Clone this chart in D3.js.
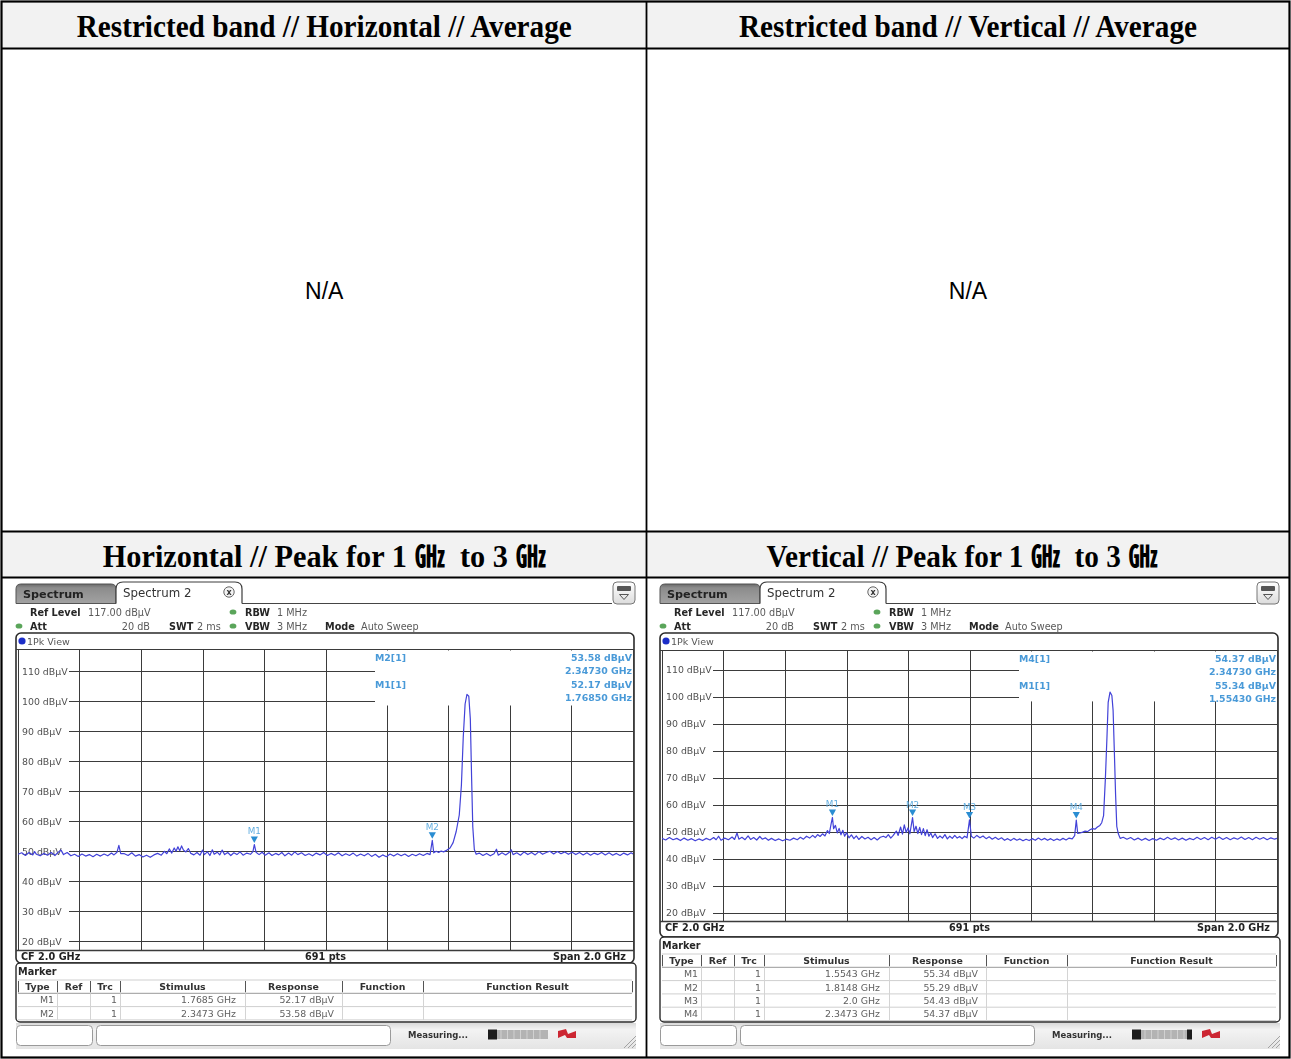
<!DOCTYPE html>
<html>
<head>
<meta charset="utf-8">
<script src="https://cdn.jsdelivr.net/npm/d3@7"></script>
<style>
  body { margin: 0; background: #fff; }
  svg { display: block; }
</style>
</head>
<body>
<div id="chart"></div>
<script>
// ---- report cells ----
const cellTitles = [
  "Restricted band // Horizontal // Average",
  "Restricted band // Vertical // Average",
  "Horizontal // Peak for 1 \u3393  to 3 \u3393",
  "Vertical // Peak for 1 \u3393  to 3 \u3393"
];
const emptyCellText = "N/A";

// ---- analyzer settings ----
const refLevel = 117;           // dBµV, top of screen
const rangeDb = 100;            // 10 dB / div
const freqStart = 1.0, freqStop = 3.0;   // GHz
const yTicks = [110, 100, 90, 80, 70, 60, 50, 40, 30, 20];
const settingsRow1 = [["Ref Level", "117.00 dBµV"], ["RBW", "1 MHz"]];
const settingsRow2 = [["Att", "20 dB"], ["SWT", "2 ms"], ["VBW", "3 MHz"], ["Mode", "Auto Sweep"]];
const footer = ["CF 2.0 GHz", "691 pts", "Span 2.0 GHz"];
const tableHeader = ["Type", "Ref", "Trc", "Stimulus", "Response", "Function", "Function Result"];

// ---- horizontal polarisation, 1Pk trace [GHz, dBµV] ----
const traceH = [
  [1.000,48.9],[1.012,49.4],[1.024,48.5],[1.036,49.5],[1.048,48.7],[1.054,49.8],[1.060,48.9],[1.072,48.4],
  [1.084,49.2],[1.096,48.6],[1.108,49.5],[1.120,48.5],[1.132,49.7],[1.140,50.3],[1.148,48.8],[1.160,49.5],
  [1.172,48.4],[1.184,48.9],[1.196,48.2],[1.208,49.0],[1.220,48.3],[1.232,48.8],[1.244,48.1],[1.256,48.9],
  [1.268,48.3],[1.280,49.0],[1.292,48.4],[1.304,49.3],[1.312,48.7],[1.322,49.6],[1.328,51.9],[1.334,49.1],
  [1.346,49.1],[1.358,48.5],[1.370,49.4],[1.382,48.3],[1.394,48.8],[1.406,48.0],[1.418,48.6],[1.430,47.9],
  [1.442,48.7],[1.454,49.2],[1.466,48.6],[1.476,49.9],[1.484,49.1],[1.492,50.7],[1.500,49.3],[1.508,51.0],
  [1.514,49.9],[1.520,51.4],[1.526,50.1],[1.532,51.7],[1.538,50.3],[1.546,49.7],[1.554,50.8],[1.562,49.2],
  [1.572,48.7],[1.582,49.5],[1.592,48.6],[1.600,50.3],[1.606,48.8],[1.616,49.7],[1.624,48.5],[1.632,50.4],
  [1.638,48.9],[1.648,49.6],[1.656,48.7],[1.664,50.3],[1.672,48.8],[1.682,49.5],[1.692,48.5],[1.702,49.4],
  [1.712,48.8],[1.722,49.7],[1.732,48.6],[1.744,49.3],[1.756,48.9],[1.764,49.8],[1.7685,52.17],[1.774,49.6],
  [1.784,48.8],[1.794,49.6],[1.804,48.6],[1.816,49.4],[1.826,48.5],[1.838,49.2],[1.848,48.7],[1.858,49.5],
  [1.868,48.4],[1.880,49.3],[1.890,48.6],[1.900,49.7],[1.910,48.8],[1.922,49.4],[1.934,48.5],[1.946,49.1],
  [1.958,48.4],[1.970,49.3],[1.982,48.7],[1.994,49.5],[2.006,48.5],[2.018,49.2],[2.030,48.6],[2.042,49.4],
  [2.054,48.4],[2.066,49.1],[2.078,48.5],[2.090,49.3],[2.102,48.3],[2.114,49.0],[2.126,48.4],[2.138,49.2],
  [2.150,48.2],[2.162,48.9],[2.174,47.9],[2.186,48.7],[2.198,48.1],[2.210,49.0],[2.222,48.3],[2.234,49.1],
  [2.246,48.4],[2.258,49.0],[2.270,48.2],[2.282,48.9],[2.294,48.4],[2.306,49.1],[2.318,48.5],[2.330,49.2],
  [2.340,48.8],[2.3473,53.58],[2.352,49.4],[2.360,49.9],[2.368,49.5],[2.376,50.0],[2.384,49.7],[2.395,50.3],
  [2.405,51.0],[2.415,52.8],[2.425,56.5],[2.435,62.0],[2.442,72.0],[2.448,88.0],[2.454,99.0],[2.460,102.2],
  [2.466,101.6],[2.471,94.0],[2.475,75.0],[2.479,58.0],[2.484,50.5],[2.490,48.9],[2.500,49.3],[2.512,48.5],
  [2.524,49.2],[2.536,48.4],[2.548,49.1],[2.556,50.6],[2.562,48.6],[2.574,49.4],[2.586,48.7],[2.598,49.6],
  [2.604,50.4],[2.610,48.8],[2.622,49.4],[2.634,48.6],[2.646,49.7],[2.658,48.8],[2.670,49.5],[2.682,48.7],
  [2.694,49.8],[2.706,48.9],[2.718,49.5],[2.730,49.9],[2.742,49.0],[2.754,49.8],[2.766,49.1],[2.778,49.7],
  [2.790,48.9],[2.802,49.6],[2.814,48.8],[2.826,49.5],[2.838,48.7],[2.850,49.4],[2.862,48.6],[2.874,49.3],
  [2.886,48.8],[2.898,49.5],[2.910,48.7],[2.922,49.4],[2.934,48.6],[2.946,49.2],[2.958,48.5],[2.970,49.3],
  [2.982,48.7],[2.994,49.4],[3.000,49.0]
];

// ---- vertical polarisation, 1Pk trace [GHz, dBµV] ----
const traceV = [
  [1.000,47.6],[1.012,47.0],[1.024,47.9],[1.036,47.1],[1.048,47.6],[1.060,46.8],[1.072,47.7],[1.084,46.9],
  [1.096,47.5],[1.108,46.7],[1.120,47.4],[1.132,46.8],[1.144,47.6],[1.156,47.0],[1.168,47.9],[1.176,47.1],
  [1.184,48.4],[1.192,46.9],[1.204,47.7],[1.216,47.1],[1.228,48.1],[1.236,47.2],[1.244,49.6],[1.250,47.3],
  [1.260,48.0],[1.270,47.1],[1.280,48.5],[1.288,47.2],[1.298,47.9],[1.308,47.0],[1.318,48.3],[1.326,47.3],
  [1.336,47.8],[1.346,46.9],[1.356,47.6],[1.368,46.8],[1.380,47.4],[1.392,46.7],[1.404,47.3],[1.416,46.9],
  [1.428,47.7],[1.440,47.1],[1.450,48.0],[1.460,47.3],[1.470,48.4],[1.480,47.7],[1.490,48.7],[1.498,47.9],
  [1.506,49.0],[1.514,48.3],[1.522,49.3],[1.530,48.5],[1.538,50.5],[1.544,49.4],[1.550,53.0],[1.5543,55.34],
  [1.558,51.2],[1.564,52.4],[1.570,49.6],[1.576,51.3],[1.582,48.9],[1.588,50.6],[1.594,48.4],[1.600,49.7],
  [1.608,47.8],[1.616,48.9],[1.624,47.5],[1.632,48.5],[1.640,47.2],[1.650,48.3],[1.660,47.4],[1.670,48.0],
  [1.680,47.1],[1.690,47.9],[1.700,47.0],[1.710,48.0],[1.720,48.4],[1.728,47.9],[1.736,49.0],[1.744,47.7],
  [1.752,48.7],[1.762,50.3],[1.768,48.7],[1.776,51.8],[1.782,49.2],[1.788,52.6],[1.794,49.8],[1.800,51.5],
  [1.806,49.3],[1.8148,55.29],[1.820,50.1],[1.826,52.1],[1.832,49.4],[1.838,51.7],[1.844,49.0],[1.850,51.2],
  [1.856,48.6],[1.862,50.8],[1.868,48.4],[1.874,49.6],[1.880,47.9],[1.888,49.3],[1.896,47.6],[1.904,48.5],
  [1.912,47.7],[1.920,49.0],[1.928,47.4],[1.936,48.4],[1.944,47.6],[1.952,48.7],[1.960,47.7],[1.968,48.3],
  [1.976,47.5],[1.984,48.4],[1.992,47.8],[2.000,54.43],[2.006,48.4],[2.014,47.7],[2.024,48.7],[2.034,47.8],
  [2.044,48.5],[2.054,47.5],[2.064,48.2],[2.074,47.3],[2.084,48.0],[2.094,47.2],[2.104,47.8],[2.114,46.9],
  [2.124,47.5],[2.134,46.8],[2.144,47.6],[2.154,46.9],[2.164,47.4],[2.174,46.7],[2.184,47.3],[2.194,46.8],
  [2.204,47.5],[2.214,46.9],[2.224,47.7],[2.234,47.0],[2.244,47.6],[2.254,46.9],[2.264,47.5],[2.274,46.8],
  [2.284,47.4],[2.294,46.9],[2.304,47.6],[2.314,47.0],[2.324,47.7],[2.334,47.4],[2.342,48.6],[2.3473,54.37],
  [2.352,49.4],[2.360,49.6],[2.368,49.9],[2.376,50.3],[2.384,50.1],[2.392,50.8],[2.400,51.2],[2.408,51.0],
  [2.416,51.8],[2.424,52.4],[2.430,53.4],[2.436,56.0],[2.442,70.0],[2.447,85.0],[2.451,98.0],[2.457,101.8],
  [2.463,100.5],[2.467,95.0],[2.471,80.0],[2.475,64.0],[2.479,52.0],[2.484,49.3],[2.490,47.6],[2.500,48.0],
  [2.512,47.3],[2.524,47.9],[2.536,47.0],[2.548,47.7],[2.560,46.9],[2.572,47.6],[2.584,46.8],[2.596,47.5],
  [2.608,46.9],[2.620,47.7],[2.632,47.1],[2.644,48.0],[2.656,47.2],[2.668,47.8],[2.680,47.0],[2.692,47.7],
  [2.704,46.9],[2.716,47.6],[2.728,47.1],[2.740,48.0],[2.752,47.2],[2.764,47.9],[2.776,47.1],[2.788,48.0],
  [2.800,47.3],[2.812,48.1],[2.824,47.2],[2.836,47.9],[2.848,47.1],[2.860,47.8],[2.872,47.3],[2.884,48.1],
  [2.896,47.2],[2.908,47.9],[2.920,47.1],[2.932,48.0],[2.944,47.3],[2.956,47.9],[2.968,47.1],[2.980,47.8],
  [2.992,47.3],[3.000,47.6]
];

// ---- marker lists ----
const markersH = [
  { name: "M1", trc: 1, freq: 1.7685, stim: "1.7685 GHz", level: 52.17 },
  { name: "M2", trc: 1, freq: 2.3473, stim: "2.3473 GHz", level: 53.58 }
];
const markersV = [
  { name: "M1", trc: 1, freq: 1.5543, stim: "1.5543 GHz", level: 55.34 },
  { name: "M2", trc: 1, freq: 1.8148, stim: "1.8148 GHz", level: 55.29 },
  { name: "M3", trc: 1, freq: 2.0, stim: "2.0 GHz", level: 54.43 },
  { name: "M4", trc: 1, freq: 2.3473, stim: "2.3473 GHz", level: 54.37 }
];
const infoH = [
  { label: "M2[1]", level: "53.58 dBµV", freq: "2.34730 GHz" },
  { label: "M1[1]", level: "52.17 dBµV", freq: "1.76850 GHz" }
];
const infoV = [
  { label: "M4[1]", level: "54.37 dBµV", freq: "2.34730 GHz" },
  { label: "M1[1]", level: "55.34 dBµV", freq: "1.55430 GHz" }
];

// ================= drawing =================
const W = 1291, H = 1059;
const UI = "'DejaVu Sans', Verdana, sans-serif";
const SERIF = "'Liberation Serif', 'Times New Roman', 'Noto Sans CJK KR', serif";

const svg = d3.select("#chart").append("svg")
  .attr("width", W).attr("height", H)
  .attr("viewBox", `0 0 ${W} ${H}`);

const defs = svg.append("defs");
defs.append("filter").attr("id", "soft")
  .attr("x", -0.02).attr("y", -0.02).attr("width", 1.04).attr("height", 1.04)
  .append("feGaussianBlur").attr("stdDeviation", 0.4);

function vGrad(id, stops) {
  const gr = defs.append("linearGradient").attr("id", id)
    .attr("x1", 0).attr("y1", 0).attr("x2", 0).attr("y2", 1);
  stops.forEach(([o, c]) => gr.append("stop").attr("offset", o).attr("stop-color", c));
}
vGrad("tabGrad", [[0, "#6a6a6a"], [0.2, "#8c8c8c"], [1, "#a2a2a2"]]);
vGrad("barGrad", [[0, "#d9d9d9"], [0.25, "#f3f3f3"], [1, "#e4e4e4"]]);
vGrad("iconGrad", [[0, "#ffffff"], [1, "#dcdcdc"]]);

// ---- report table ----
const colEdges = [2, 646.5, 1289.5];
const rowEdges = [2, 48.5, 531.5, 577.5, 1057.5];

[[rowEdges[0], rowEdges[1]], [rowEdges[2], rowEdges[3]]].forEach(([a, b]) => {
  svg.append("rect").attr("x", colEdges[0]).attr("y", a)
    .attr("width", colEdges[2] - colEdges[0]).attr("height", b - a).attr("fill", "#f2f2f2");
});

const tbl = svg.append("g").attr("stroke", "#000");
tbl.append("rect").attr("x", 1.5).attr("y", 1.5).attr("width", 1288).attr("height", 1056)
  .attr("fill", "none").attr("stroke-width", 2.2);
rowEdges.slice(1, 4).forEach(yy => tbl.append("line").attr("x1", 2).attr("x2", 1289.5)
  .attr("y1", yy).attr("y2", yy).attr("stroke-width", 1.8));
tbl.append("line").attr("x1", colEdges[1]).attr("x2", colEdges[1])
  .attr("y1", 2).attr("y2", 1057.5).attr("stroke-width", 1.8);

// condensed bold serif headings, fitted to their cell widths
const titleWidths = [495, 458, 443, 391];
const centers = [(colEdges[0] + colEdges[1]) / 2, (colEdges[1] + colEdges[2]) / 2];
cellTitles.forEach((t, i) => {
  const cx = centers[i % 2] + (i === 3 ? -6 : 0);
  const cy = i < 2 ? 37 : 567;
  svg.append("text").attr("x", cx).attr("y", cy)
    .attr("text-anchor", "middle").attr("font-family", SERIF)
    .attr("font-weight", "bold").attr("font-size", 31).attr("fill", "#000")
    .attr("textLength", titleWidths[i]).attr("lengthAdjust", "spacingAndGlyphs")
    .style("white-space", "pre")
    .text(t);
});
centers.forEach(cx => {
  svg.append("text").attr("x", cx).attr("y", 299).attr("text-anchor", "middle")
    .attr("font-family", "'Liberation Sans', Arial, sans-serif").attr("font-size", 23)
    .attr("fill", "#000").text(emptyCellText);
});

// ---- spectrum analyzer screen ----
function topRounded(x, y, w, h, r) {
  return `M${x},${y + h}V${y + r}Q${x},${y} ${x + r},${y}H${x + w - r}Q${x + w},${y} ${x + w},${y + r}V${y + h}`;
}

function drawAnalyzer(ox, cfg) {
  const g = svg.append("g").attr("transform", `translate(${ox},0)`).attr("filter", "url(#soft)")
    .attr("font-family", UI);
  const txt = (x, y, s, size, weight, fill, anchor) =>
    g.append("text").attr("x", x).attr("y", y).attr("font-size", size)
      .attr("font-weight", weight || "normal").attr("fill", fill || "#555")
      .attr("text-anchor", anchor || "start").style("white-space", "pre").text(s);

  // tabs
  g.append("path").attr("d", topRounded(16, 584, 100, 19.5, 5) + "Z")
    .attr("fill", "url(#tabGrad)").attr("stroke", "#555").attr("stroke-width", 1);
  txt(23, 597.5, "Spectrum", 11.2, "bold", "#222");
  g.append("path").attr("d", topRounded(116, 582, 126, 21.5, 7))
    .attr("fill", "#fff").attr("stroke", "#3c3c3c").attr("stroke-width", 1.2);
  txt(123, 597, "Spectrum 2", 11.8, "normal", "#333");
  g.append("circle").attr("cx", 229).attr("cy", 592).attr("r", 5.2)
    .attr("fill", "#f3f3f3").attr("stroke", "#555").attr("stroke-width", 0.9);
  txt(229, 595, "x", 8, "bold", "#333", "middle");
  g.append("line").attr("x1", 242).attr("x2", 612).attr("y1", 603.5).attr("y2", 603.5)
    .attr("stroke", "#444").attr("stroke-width", 1.2);
  // menu icon
  g.append("rect").attr("x", 613).attr("y", 582).attr("width", 22).attr("height", 22).attr("rx", 4)
    .attr("fill", "url(#iconGrad)").attr("stroke", "#777");
  g.append("rect").attr("x", 617).attr("y", 586).attr("width", 14).attr("height", 5).attr("rx", 1)
    .attr("fill", "#555");
  g.append("path").attr("d", "M619.5,594.5H628.5L624,599.5Z").attr("fill", "none").attr("stroke", "#555");

  // setting rows
  const dot = (x, y, c) => g.append("ellipse").attr("cx", x).attr("cy", y).attr("rx", 3.4).attr("ry", 2.6).attr("fill", c);
  txt(30, 615.5, settingsRow1[0][0], 9.7, "bold", "#262626");
  txt(88, 615.5, settingsRow1[0][1], 9.7, "normal", "#5a5a5a");
  dot(233, 612, "#5aa55a");
  txt(245, 615.5, settingsRow1[1][0], 9.7, "bold", "#262626");
  txt(277, 615.5, settingsRow1[1][1], 9.7, "normal", "#5a5a5a");
  dot(19, 626, "#5aa55a");
  txt(30, 629.5, settingsRow2[0][0], 9.7, "bold", "#262626");
  txt(150, 629.5, settingsRow2[0][1], 9.7, "normal", "#5a5a5a", "end");
  txt(169, 629.5, settingsRow2[1][0], 9.7, "bold", "#262626");
  txt(197, 629.5, settingsRow2[1][1], 9.7, "normal", "#5a5a5a");
  dot(233, 626, "#5aa55a");
  txt(245, 629.5, settingsRow2[2][0], 9.7, "bold", "#262626");
  txt(277, 629.5, settingsRow2[2][1], 9.7, "normal", "#5a5a5a");
  txt(325, 629.5, settingsRow2[3][0], 9.7, "bold", "#262626");
  txt(361, 629.5, settingsRow2[3][1], 9.7, "normal", "#5a5a5a");

  // diagram frame
  const L = 18, R = 633;
  const x = d3.scaleLinear().domain([freqStart, freqStop]).range([L, R]);
  const y = d3.scaleLinear().domain([refLevel - rangeDb, refLevel]).range([cfg.gridBottom, cfg.gridTop]);

  g.append("rect").attr("x", 16).attr("y", 633).attr("width", 618).attr("height", cfg.frameBottom - 633)
    .attr("rx", 5).attr("fill", "#fff").attr("stroke", "#2a2a2a").attr("stroke-width", 1.6);
  g.append("circle").attr("cx", 22).attr("cy", 641).attr("r", 3.6).attr("fill", "#1f2fc8");
  txt(27, 644.5, "1Pk View", 9.5, "normal", "#555");

  // grid
  const grid = g.append("g").attr("stroke", "#3a3a3a").attr("stroke-width", 1);
  grid.append("line").attr("x1", 16).attr("x2", 634)
    .attr("y1", cfg.gridTop - 0.5).attr("y2", cfg.gridTop - 0.5).attr("stroke-width", 1.2);
  x.ticks(10).forEach(f => grid.append("line")
    .attr("x1", Math.round(x(f)) + 0.5).attr("x2", Math.round(x(f)) + 0.5)
    .attr("y1", cfg.gridTop).attr("y2", cfg.gridBottom));
  yTicks.forEach(v => grid.append("line")
    .attr("x1", 69).attr("x2", R)
    .attr("y1", Math.round(y(v)) + 0.5).attr("y2", Math.round(y(v)) + 0.5));
  grid.append("line").attr("x1", 16).attr("x2", 634)
    .attr("y1", cfg.gridBottom + 0.5).attr("y2", cfg.gridBottom + 0.5).attr("stroke-width", 1.4);

  yTicks.forEach(v => txt(22, y(v) + 3.5, `${v} dBµV`, 9.4, "normal", "#505050"));

  // marker readout block
  const boxX = L + 357;
  g.append("rect").attr("x", boxX).attr("y", cfg.gridTop + 0.5)
    .attr("width", R - boxX).attr("height", y(100) + 4 - cfg.gridTop).attr("fill", "#fff");
  cfg.info.forEach((m, i) => {
    const by = cfg.gridTop + 10.5 + i * 27;
    txt(boxX, by, m.label, 9.4, "bold", "#4a9ad8");
    txt(R - 1, by, m.level, 9.4, "bold", "#4a9ad8", "end");
    txt(R - 1, by + 13.3, m.freq, 9.4, "bold", "#4a9ad8", "end");
  });

  // trace
  const clipId = "clip" + ox;
  defs.append("clipPath").attr("id", clipId).append("rect")
    .attr("x", L).attr("y", cfg.gridTop).attr("width", R - L).attr("height", cfg.gridBottom - cfg.gridTop);
  const line = d3.line().x(d => x(d[0])).y(d => y(d[1]));
  g.append("path").datum(cfg.trace).attr("d", line).attr("clip-path", `url(#${clipId})`)
    .attr("fill", "none").attr("stroke", "#4242d8").attr("stroke-width", 1.2)
    .attr("stroke-linejoin", "round");

  // markers
  cfg.markers.forEach(m => {
    const cx = x(m.freq), ty = y(m.level) - 1.5;
    g.append("path").attr("d", `M${cx - 3.6},${ty - 6.5}H${cx + 3.6}L${cx},${ty}Z`).attr("fill", "#2b8dd2");
    txt(cx, ty - 8.5, m.name, 8.8, "normal", "#63aee0", "middle");
  });

  // footer line of the diagram
  const fy = cfg.gridBottom + 9.5;
  txt(21, fy, footer[0], 9.7, "bold", "#222");
  txt((L + R) / 2, fy, footer[1], 9.7, "bold", "#222", "middle");
  txt(626, fy, footer[2], 9.7, "bold", "#222", "end");

  // marker table window
  g.append("rect").attr("x", 16).attr("y", cfg.frameBottom).attr("width", 620)
    .attr("height", 1022 - cfg.frameBottom).attr("rx", 4)
    .attr("fill", "#fff").attr("stroke", "#2a2a2a").attr("stroke-width", 1.4);
  txt(18, cfg.frameBottom + 12, "Marker", 9.7, "bold", "#262626");

  const cols = [18, 57, 90, 120, 245, 342, 423, 632];
  const rowH = 13.3;
  const t0 = cfg.frameBottom + 17;
  const nRows = cfg.markers.length + 1;
  const tg = g.append("g");
  for (let r = 0; r <= nRows; r++) {
    tg.append("line").attr("x1", cols[0]).attr("x2", cols[7])
      .attr("y1", t0 + r * rowH).attr("y2", t0 + r * rowH)
      .attr("stroke", r === 1 ? "#999" : "#cfcfcf").attr("stroke-width", 1);
  }
  cols.forEach((cxl, i) => {
    tg.append("line").attr("x1", cxl + 0.5).attr("x2", cxl + 0.5)
      .attr("y1", t0 + 1).attr("y2", t0 + rowH - 1).attr("stroke", "#555").attr("stroke-width", 1);
    if (i > 0 && i < 7) tg.append("line").attr("x1", cxl + 0.5).attr("x2", cxl + 0.5)
      .attr("y1", t0 + rowH).attr("y2", t0 + nRows * rowH).attr("stroke", "#d4d4d4");
  });
  tableHeader.forEach((h, i) => txt((cols[i] + cols[i + 1]) / 2, t0 + 10, h, 9.4, "bold", "#333", "middle"));
  cfg.markers.forEach((m, r) => {
    const by = t0 + (r + 1) * rowH + 10;
    txt(54, by, m.name, 9.4, "normal", "#606060", "end");
    txt(117, by, String(m.trc), 9.4, "normal", "#606060", "end");
    txt(236, by, m.stim, 9.4, "normal", "#606060", "end");
    txt(334, by, `${m.level.toFixed(2)} dBµV`, 9.4, "normal", "#606060", "end");
  });

  // status bar
  g.append("rect").attr("x", 16).attr("y", 1023).attr("width", 620).attr("height", 26).attr("fill", "url(#barGrad)");
  g.append("rect").attr("x", 16.5).attr("y", 1025.5).attr("width", 76).attr("height", 20).attr("rx", 4)
    .attr("fill", "#fff").attr("stroke", "#9a9a9a");
  g.append("rect").attr("x", 96.5).attr("y", 1025.5).attr("width", 294).attr("height", 20).attr("rx", 4)
    .attr("fill", "#fff").attr("stroke", "#9a9a9a");
  txt(408, 1038, "Measuring...", 8.5, "bold", "#333");
  g.append("rect").attr("x", 488).attr("y", 1030).attr("width", 60).attr("height", 9).attr("fill", "#b3b3b3");
  for (let k = 1; k < 9; k++) {
    g.append("line").attr("x1", 488 + k * 6.5).attr("x2", 488 + k * 6.5).attr("y1", 1030).attr("y2", 1039)
      .attr("stroke", "#d8d8d8").attr("stroke-width", 0.8);
  }
  g.append("rect").attr("x", 488).attr("y", 1029.5).attr("width", 9).attr("height", 10).attr("fill", "#1e1e1e");
  if (cfg.busyEnd) g.append("rect").attr("x", 543).attr("y", 1029.5).attr("width", 5).attr("height", 10).attr("fill", "#1e1e1e");
  g.append("path").attr("d", "M558,1031L566,1029L568,1034L576,1031L576,1038L567,1038L565,1035L558,1038Z")
    .attr("fill", "#cc2630");
  [0, 4, 8].forEach(d => g.append("line").attr("x1", 624 + d).attr("y1", 1048).attr("x2", 636).attr("y2", 1036 + d)
    .attr("stroke", "#9a9a9a").attr("stroke-width", 0.9));
}

drawAnalyzer(0, {
  gridTop: 650, gridBottom: 950, frameBottom: 963,
  trace: traceH, markers: markersH, info: infoH, busyEnd: false
});
drawAnalyzer(644, {
  gridTop: 651, gridBottom: 921, frameBottom: 937,
  trace: traceV, markers: markersV, info: infoV, busyEnd: true
});
</script>
</body>
</html>
